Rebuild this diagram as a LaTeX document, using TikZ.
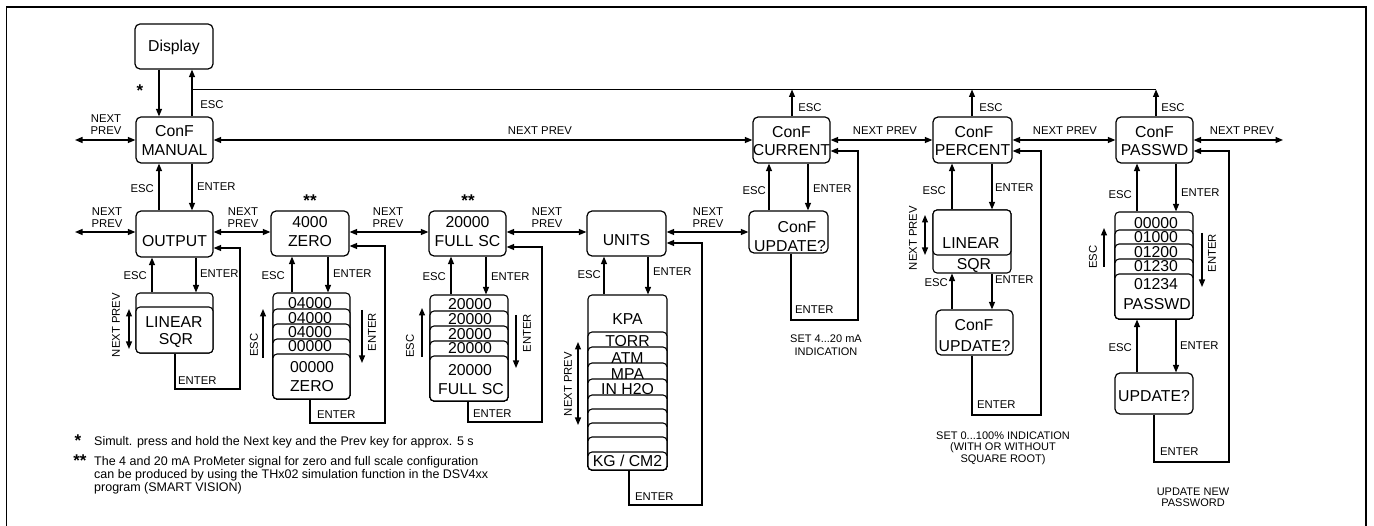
\documentclass[tikz,border=0pt]{standalone}
\usepackage{fontspec}
\setmainfont{Liberation Sans}
\usetikzlibrary{arrows.meta}
\newcommand\mkbox[5]{\node[box, minimum width={(#3-#2)*1pt}, minimum height={(#5-#4)*1pt}] (#1) at ({(#2+#3)/2},{(#4+#5)/2}) {};}
\newcommand\mkcard[5]{\node[card, minimum width={(#3-#2)*1pt}, minimum height={(#5-#4)*1pt}] (#1) at ({(#2+#3)/2},{(#4+#5)/2}) {};}
\begin{document}
\begin{tikzpicture}[x=1pt,y=-1pt,
  ln/.style={line width=1.2pt},
  box/.style={draw, line width=1.2pt, rounded corners=5pt, fill=white, inner sep=0pt},
  card/.style={draw, line width=1.1pt, rounded corners=4pt, fill=white, inner sep=0pt},
  arr/.style={line width=1.2pt, -{Triangle[length=7.5pt,width=6pt]}},
  darr/.style={line width=1.2pt, {Triangle[length=7.5pt,width=6pt]}-{Triangle[length=7.5pt,width=6pt]}},
  btxt/.style={font=\fontsize{15.8}{19}\selectfont, inner sep=0pt},
  lbl/.style={font=\fontsize{11.3}{12}\selectfont, inner sep=0pt, align=center},
  ann/.style={font=\fontsize{11}{12.5}\selectfont, inner sep=0pt, align=center},
  note/.style={font=\fontsize{12.5}{13.5}\selectfont, inner sep=0pt, anchor=base west},
  star/.style={font=\fontsize{17}{17}\selectfont\bfseries, inner sep=0pt}]
\useasboundingbox (0,0) rectangle (1374,526);
\draw[line width=1.4pt] (6.5,535) -- (6.5,7) -- (1366,7) -- (1366,535);

% ---------- main boxes ----------
\mkbox{display}{135}{213}{24}{69}
\mkbox{manual}{136}{213}{117}{163}
\mkbox{output}{136}{213}{211}{257}
\mkbox{zero}{271}{349}{211}{256}
\mkbox{full}{429}{506}{211}{256}
\mkbox{units}{587}{666}{211}{256}
\mkbox{current}{753}{830}{117}{163}
\mkbox{cupd}{749}{828}{211}{253}
\mkbox{percent}{933}{1012}{117}{163}
\mkbox{pupd}{936}{1013}{310}{355}
\mkbox{passwd}{1116}{1193}{117}{163}
\mkbox{wupd}{1115}{1193}{373}{414}

% ---------- card stacks ----------
\mkcard{oc1}{136}{213}{293}{353}
\mkcard{oc2}{136}{213}{307}{353}

\mkcard{zc1}{273}{350}{293}{399}
\mkcard{zc2}{273}{350}{309}{399}
\mkcard{zc3}{273}{350}{324}{399}
\mkcard{zc4}{273}{350}{339}{399}
\mkcard{zc5}{273}{350}{354}{399}

\mkcard{fc1}{430}{508}{295}{401}
\mkcard{fc2}{430}{508}{311}{401}
\mkcard{fc3}{430}{508}{326}{401}
\mkcard{fc4}{430}{508}{341}{401}
\mkcard{fc5}{430}{508}{356}{401}

\mkcard{uc1}{588}{667}{295}{470}
\mkcard{uc2}{588}{667}{332}{470}
\mkcard{uc3}{588}{667}{347}{470}
\mkcard{uc4}{588}{667}{363}{470}
\mkcard{uc5}{588}{667}{379}{470}
\mkcard{uc6}{588}{667}{395}{470}
\mkcard{uc7}{588}{667}{409}{470}
\mkcard{uc8}{588}{667}{423}{470}
\mkcard{uc9}{588}{667}{437}{470}
\mkcard{uc10}{588}{667}{452}{470}

\mkcard{pc1}{933}{1011}{210}{273}
\mkcard{pc2}{933}{1011}{210}{255}

\mkcard{wc1}{1115}{1193}{212}{319}
\mkcard{wc2}{1115}{1193}{230}{319}
\mkcard{wc3}{1115}{1193}{244}{319}
\mkcard{wc4}{1115}{1193}{259}{319}
\mkcard{wc5}{1115}{1193}{274}{319}

% ---------- box texts ----------
\node[btxt] (tdisp) at (174,47) {Display};
\node[btxt] (tman1) at (174.5,131) {ConF};
\node[btxt] (tman2) at (174.5,150) {MANUAL};
\node[btxt] (tout) at (174.5,241) {OUTPUT};
\node[btxt] (tzer1) at (310,222) {4000};
\node[btxt] (tzer2) at (310,241) {ZERO};
\node[btxt] (tful1) at (467.5,222) {20000};
\node[btxt] (tful2) at (467.5,241) {FULL\hspace{5pt}SC};
\node[btxt] (tuni) at (626.5,240) {UNITS};
\node[btxt] (tcur1) at (791.5,132) {ConF};
\node[btxt] (tcur2) at (791.5,150) {CURRENT};
\node[btxt] (tcup1) at (797,227) {ConF};
\node[btxt] (tcup2) at (790,246) {UPDATE?};
\node[btxt] (tper1) at (974,132) {ConF};
\node[btxt] (tper2) at (972.5,150) {PERCENT};
\node[btxt] (tpup1) at (974,325) {ConF};
\node[btxt] (tpup2) at (974.5,346) {UPDATE?};
\node[btxt] (tpas1) at (1154.5,132) {ConF};
\node[btxt] (tpas2) at (1154.5,150) {PASSWD};
\node[btxt] (twup) at (1154,396) {UPDATE?};

% stack texts
\node[btxt] (so1) at (174,322) {LINEAR};
\node[btxt] (so2) at (176,340) {SQR};
\node[btxt] (sz1) at (310,303) {04000};
\node[btxt] (sz2) at (310,318) {04000};
\node[btxt] (sz3) at (310,332) {04000};
\node[btxt] (sz4) at (310,346) {00000};
\node[btxt] (sz5) at (312,367) {00000};
\node[btxt] (sz6) at (312,386) {ZERO};
\node[btxt] (sf1) at (470,304) {20000};
\node[btxt] (sf2) at (470,319) {20000};
\node[btxt] (sf3) at (470,334) {20000};
\node[btxt] (sf4) at (470,348) {20000};
\node[btxt] (sf5) at (470,370) {20000};
\node[btxt] (sf6) at (471,389) {FULL\hspace{5pt}SC};
\node[btxt] (su1) at (627.5,319) {KPA};
\node[btxt] (su2) at (627.5,341) {TORR};
\node[btxt] (su3) at (627.5,358) {ATM};
\node[btxt] (su4) at (627.5,374) {MPA};
\node[btxt] (su5) at (627.5,389) {IN H2O};
\node[btxt] (su6) at (627.5,461) {KG / CM2};
\node[btxt] (sp1) at (971,243) {LINEAR};
\node[btxt] (sp2) at (974,265) {SQR};
\node[btxt] (sw1) at (1156,223) {00000};
\node[btxt] (sw2) at (1156,237) {01000};
\node[btxt] (sw3) at (1156,252) {01200};
\node[btxt] (sw4) at (1156,266) {01230};
\node[btxt] (sw5) at (1156,284) {01234};
\node[btxt] (sw6) at (1157,304) {PASSWD};

% ---------- top row connectors ----------
\coordinate (topL) at (192,89.5);
\coordinate (topR) at (1156,89.5);
\draw[arr] (159,0 |- display.south) -- (159,0 |- manual.north);
\draw[arr] (topL |- manual.north) -- (topL |- display.south);
\draw[ln] (topL) -- (topR);
\draw[arr] (792,0 |- current.north) -- (792,0 |- topL);
\draw[arr] (972,0 |- percent.north) -- (972,0 |- topL);
\draw[arr] (topR |- passwd.north) -- (topR);

\coordinate (mL) at (75,140);
\coordinate (pR) at (1283,140);
\draw[darr] (mL) -- (manual.west);
\draw[darr] (manual.east) -- (current.west);
\draw[darr] (current.east) -- (percent.west);
\draw[darr] (percent.east) -- (passwd.west);
\draw[darr] (passwd.east) -- (pR);

% manual <-> output
\draw[arr] (159,0 |- output.north) -- (159,0 |- manual.south);
\draw[arr] (192,0 |- manual.south) -- (192,0 |- output.north);

% ---------- second row connectors ----------
\coordinate (oL) at (75,232);
\draw[darr] (oL) -- (output.west |- oL);
\draw[darr] (output.east |- oL) -- (zero.west |- oL);
\draw[darr] (zero.east |- oL) -- (full.west |- oL);
\draw[darr] (full.east |- oL) -- (units.west |- oL);
\draw[darr] (units.east |- oL) -- (cupd.west |- oL);

% box <-> stack
\draw[arr] (152,0 |- oc1.north) -- (152,0 |- output.south);
\draw[arr] (196,0 |- output.south) -- (196,0 |- oc1.north);
\draw[arr] (292,0 |- zc1.north) -- (292,0 |- zero.south);
\draw[arr] (328,0 |- zero.south) -- (328,0 |- zc1.north);
\draw[arr] (451,0 |- fc1.north) -- (451,0 |- full.south);
\draw[arr] (486,0 |- full.south) -- (486,0 |- fc1.north);
\draw[arr] (604,0 |- uc1.north) -- (604,0 |- units.south);
\draw[arr] (648,0 |- units.south) -- (648,0 |- uc1.north);
\draw[arr] (769,0 |- cupd.north) -- (769,0 |- current.south);
\draw[arr] (808,0 |- current.south) -- (808,0 |- cupd.north);
\draw[arr] (952,0 |- pc1.north) -- (952,0 |- percent.south);
\draw[arr] (992,0 |- percent.south) -- (992,0 |- pc1.north);
\draw[arr] (952,0 |- pupd.north) -- (952,0 |- pc1.south);
\draw[arr] (992,0 |- pc1.south) -- (992,0 |- pupd.north);
\draw[arr] (1137,0 |- wc1.north) -- (1137,0 |- passwd.south);
\draw[arr] (1176,0 |- passwd.south) -- (1176,0 |- wc1.north);
\draw[arr] (1137,0 |- wupd.north) -- (1137,0 |- wc1.south);
\draw[arr] (1176,0 |- wc1.south) -- (1176,0 |- wupd.north);

% ENTER loops
\draw[arr] (175,0 |- oc1.south) |- (240,389) |- (output.east |- 0,248);
\draw[arr] (310,0 |- zc1.south) |- (385,423) |- (zero.east |- 0,246);
\draw[arr] (468,0 |- fc1.south) |- (542,422) |- (full.east |- 0,247);
\draw[arr] (629,0 |- uc1.south) |- (702,505) |- (units.east |- 0,243);
\draw[arr] (791,0 |- cupd.south) |- (858,320) |- (current.east |- 0,151);
\draw[arr] (972,0 |- pupd.south) |- (1041,415) |- (percent.east |- 0,151);
\draw[arr] (1154,0 |- wupd.south) |- (1229,462) |- (passwd.east |- 0,151);

% side arrows beside stacks
\coordinate (oa1) at (129,309); \coordinate (oa2) at (129,349);
\draw[darr] (oa1) -- (oa2);
\coordinate (za1) at (263,358); \coordinate (za2) at (263,309);
\draw[arr] (za1) -- (za2);
\coordinate (za3) at (362,310); \coordinate (za4) at (362,363);
\draw[arr] (za3) -- (za4);
\coordinate (fa1) at (422,357); \coordinate (fa2) at (422,308);
\draw[arr] (fa1) -- (fa2);
\coordinate (fa3) at (516,315); \coordinate (fa4) at (516,368);
\draw[arr] (fa3) -- (fa4);
\coordinate (ua1) at (578,342); \coordinate (ua2) at (578,425);
\draw[darr] (ua1) -- (ua2);
\coordinate (pa1) at (925,215); \coordinate (pa2) at (925,255);
\draw[darr] (pa1) -- (pa2);
\coordinate (wa1) at (1104,267); \coordinate (wa2) at (1104,228);
\draw[arr] (wa1) -- (wa2);
\coordinate (wa3) at (1202,233); \coordinate (wa4) at (1202,287);
\draw[arr] (wa3) -- (wa4);

% ---------- labels ----------
\node[star] (st1) at (140,91) {*};
\node[star] (st2) at (310,201) {**};
\node[star] (st3) at (468,201) {**};

\node[lbl] (l1) at (212,105) {ESC};
\node[lbl] (l2) at (810,108) {ESC};
\node[lbl] (l3) at (991,108) {ESC};
\node[lbl] (l4) at (1173,108) {ESC};

\node[lbl] (n1) at (106,125) {NEXT\\PREV};
\node[lbl] (n2) at (540,131) {NEXT PREV};
\node[lbl] (n3) at (885,131) {NEXT PREV};
\node[lbl] (n4) at (1065,131) {NEXT PREV};
\node[lbl] (n5) at (1242,131) {NEXT PREV};
\node[lbl] (n6) at (107,218) {NEXT\\PREV};
\node[lbl] (n7) at (243,218) {NEXT\\PREV};
\node[lbl] (n8) at (388,218) {NEXT\\PREV};
\node[lbl] (n9) at (547,218) {NEXT\\PREV};
\node[lbl] (n10) at (708,218) {NEXT\\PREV};

\node[lbl, anchor=east] (e1) at (154,189) {ESC};
\node[lbl, anchor=west] (e2) at (197,187) {ENTER};
\node[lbl, anchor=east] (e3) at (147,276) {ESC};
\node[lbl, anchor=west] (e4) at (200,274) {ENTER};
\node[lbl, anchor=east] (e5) at (285,276) {ESC};
\node[lbl, anchor=west] (e6) at (333,274) {ENTER};
\node[lbl, anchor=east] (e7) at (446,277) {ESC};
\node[lbl, anchor=west] (e8) at (491,277) {ENTER};
\node[lbl, anchor=east] (e9) at (601,275) {ESC};
\node[lbl, anchor=west] (e10) at (653,272) {ENTER};
\node[lbl, anchor=east] (e11) at (766,191) {ESC};
\node[lbl, anchor=west] (e12) at (813,189) {ENTER};
\node[lbl, anchor=east] (e13) at (946,191) {ESC};
\node[lbl, anchor=west] (e14) at (995,188) {ENTER};
\node[lbl, anchor=east] (e15) at (948,283) {ESC};
\node[lbl, anchor=west] (e16) at (995,280) {ENTER};
\node[lbl, anchor=east] (e17) at (1132,195) {ESC};
\node[lbl, anchor=west] (e18) at (1181,193) {ENTER};
\node[lbl, anchor=east] (e19) at (1132,348) {ESC};
\node[lbl, anchor=west] (e20) at (1180,346) {ENTER};

\node[lbl, anchor=west] (x1) at (178,381) {ENTER};
\node[lbl, anchor=west] (x2) at (317,415) {ENTER};
\node[lbl, anchor=west] (x3) at (473,414) {ENTER};
\node[lbl, anchor=west] (x4) at (635,497) {ENTER};
\node[lbl, anchor=west] (x5) at (795,310) {ENTER};
\node[lbl, anchor=west] (x6) at (977,405) {ENTER};
\node[lbl, anchor=west] (x7) at (1160,452) {ENTER};

\node[lbl, rotate=90] (r1) at (116,325) {NEXT PREV};
\node[lbl, rotate=90] (r2) at (254,345) {ESC};
\node[lbl, rotate=90] (r3) at (372,332) {ENTER};
\node[lbl, rotate=90] (r4) at (410,346) {ESC};
\node[lbl, rotate=90] (r5) at (527,333) {ENTER};
\node[lbl, rotate=90] (r6) at (568,384) {NEXT PREV};
\node[lbl, rotate=90] (r7) at (913,238) {NEXT PREV};
\node[lbl, rotate=90] (r8) at (1093,257) {ESC};
\node[lbl, rotate=90] (r9) at (1212,253) {ENTER};

\node[ann] (a1) at (826,345) {SET 4...20 mA\\INDICATION};
\node[ann, font=\fontsize{11}{11.5}\selectfont] (a2) at (1003,448) {SET 0...100\% INDICATION\\(WITH OR WITHOUT\\SQUARE ROOT)};
\node[ann, font=\fontsize{11}{11.5}\selectfont] (a3) at (1193,497.5) {UPDATE NEW\\PASSWORD};

% ---------- footnotes ----------
\node[star] (f0) at (78,441) {*};
\node[note] (f1) at (94,445.5) {Simult. press and hold the Next key and the Prev key for approx. 5 s};
\node[star] (f2) at (80,461) {**};
\node[note] (f3) at (94,465.5) {The 4 and 20 mA ProMeter signal for zero and full scale configuration};
\node[note] (f4) at (94,478.5) {can be produced by using the THx02 simulation function in the DSV4xx};
\node[note] (f5) at (94,491.5) {program (SMART VISION)};
\end{tikzpicture}
\end{document}
